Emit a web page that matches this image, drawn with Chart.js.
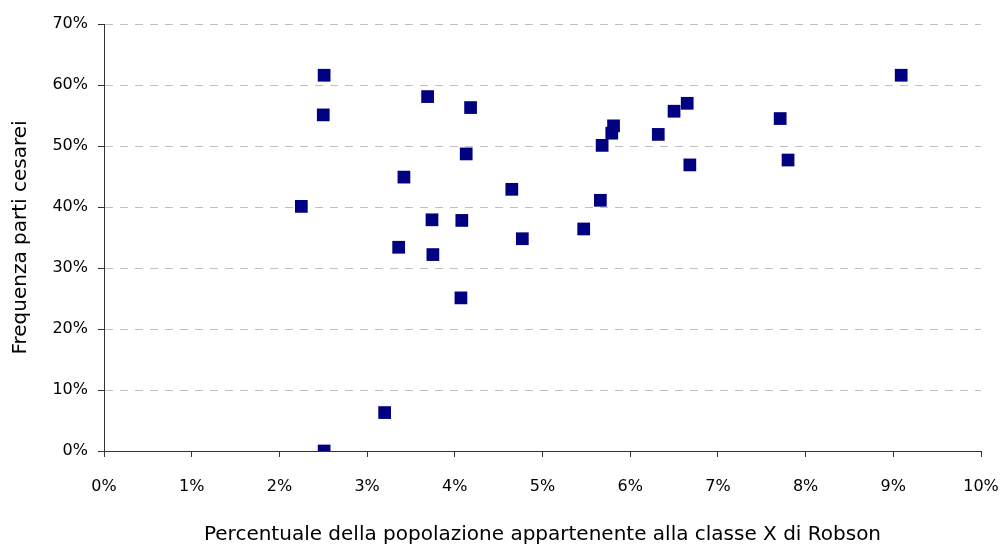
<!DOCTYPE html>
<html>
<head>
<meta charset="utf-8">
<script src="https://cdn.jsdelivr.net/npm/chart.js@4.4.0/dist/chart.umd.min.js"></script>
<style>
  html, body { margin: 0; padding: 0; background: #fff; }
  #wrap { width: 1000px; height: 545px; }
</style>
</head>
<body>
<div id="wrap"><canvas id="chart"></canvas></div>
<script>
// Share of population in Robson class X (%)
const popShare = [
    2.51, 2.50, 3.69, 4.18, 4.13, 3.42, 2.25, 3.74, 4.08, 3.36,
    3.75, 4.07, 3.20, 2.51, 4.65, 4.77, 5.47, 5.66, 5.68, 5.79,
    5.81, 6.32, 6.50, 6.65, 6.68, 7.71, 7.80, 9.09
];

// Caesarean section rate (%)
const csRate = [
    61.6, 55.1, 58.1, 56.3, 48.7, 44.9, 40.1, 37.9, 37.8, 33.4,
    32.2, 25.1, 6.3, 0.0, 42.9, 34.8, 36.4, 41.1, 50.1, 52.1,
    53.3, 51.9, 55.7, 57.0, 46.9, 54.5, 47.7, 61.6
];

const points = popShare.map((x, i) => ({ x: x, y: csRate[i] }));

const fontFamily = "'Comic Sans MS', 'DejaVu Sans', sans-serif";

const data = {
    datasets: [
        {
            label: 'Ospedali',
            data: points,
            pointStyle: 'rect',
            pointRadius: 9,
            pointHoverRadius: 9,
            borderWidth: 0,
            pointBorderWidth: 0,
            backgroundColor: '#000080',
            borderColor: '#000080'
        }
    ]
};

const config = {
    type: 'scatter',
    data: data,
    options: {
        responsive: true,
        maintainAspectRatio: false,
        animation: false,
        layout: {
            padding: { top: 24, right: 19, bottom: 0, left: 0 }
        },
        plugins: {
            legend: { display: false },
            tooltip: { enabled: false }
        },
        scales: {
            x: {
                type: 'linear',
                min: 0,
                max: 10,
                afterFit: (scale) => {
                    scale.height = 94;
                    scale.paddingRight = 0;
                },
                ticks: {
                    stepSize: 1,
                    padding: 20,
                    color: '#000',
                    font: { family: fontFamily, size: 16 },
                    callback: (v) => v + '%'
                },
                grid: {
                    drawOnChartArea: false,
                    drawTicks: true,
                    tickLength: 6,
                    tickColor: '#333'
                },
                border: { display: true, color: '#333', width: 1 },
                title: {
                    display: true,
                    text: 'Percentuale della popolazione appartenente alla classe X di Robson',
                    color: '#000',
                    font: { family: fontFamily, size: 20, lineHeight: 1.0 },
                    padding: { top: 0, bottom: 0 }
                }
            },
            y: {
                type: 'linear',
                min: 0,
                max: 70,
                afterFit: (scale) => { scale.width = 104; },
                ticks: {
                    stepSize: 10,
                    padding: 10,
                    color: '#000',
                    font: { family: fontFamily, size: 16 },
                    callback: (v) => v + '%'
                },
                grid: {
                    color: '#c0c0c0',
                    tickLength: 6,
                    tickColor: '#333',
                    tickBorderDash: []
                },
                border: { display: true, color: '#333', width: 1, dash: [8, 7] },
                title: {
                    display: true,
                    text: 'Frequenza parti cesarei',
                    color: '#000',
                    font: { family: fontFamily, size: 20, lineHeight: 1.2 },
                    padding: { top: 9, bottom: 0 }
                }
            }
        }
    }
};

const csChart = new Chart(
    document.getElementById('chart'),
    config
);
</script>
</body>
</html>
